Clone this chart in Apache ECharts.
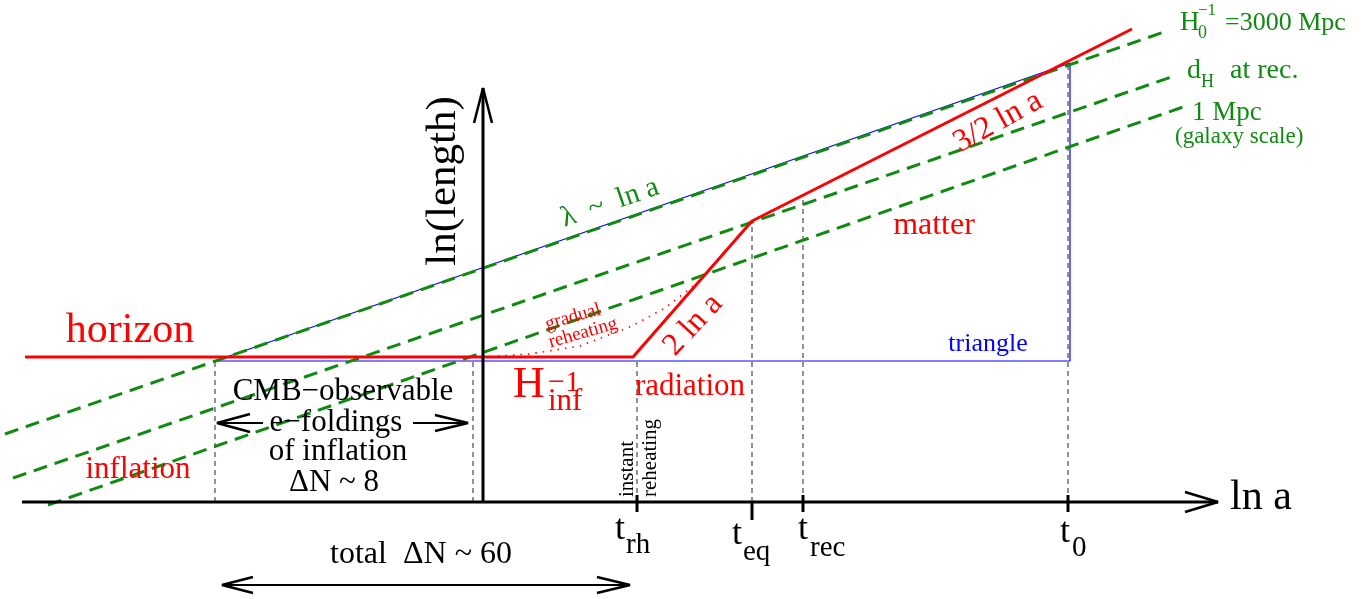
<!DOCTYPE html>
<html>
<head>
<meta charset="utf-8">
<script src="https://cdn.jsdelivr.net/npm/echarts@6/dist/echarts.min.js"></script>
<style>
  html, body { margin: 0; padding: 0; background: #fff; }
  #chart { width: 1370px; height: 599px; }
</style>
</head>
<body>
<div id="chart"></div>
<script>
// Units: ln a along x, ln(length) along y; origin where the two axes cross.
const horizon        = [[-458, 145], [150, 145], [269, 281], [649, 473]];
const gradualReheat  = [[0, 145], [47, 148], [97, 156], [149, 176], [182, 194], [217, 221]];
const triangle       = [[-268, 141], [587, 141], [587, 439], [-268, 141]];
const scaleH0        = [[-478, 68], [684, 471]];
const scaleRec       = [[-470, 24], [694, 427]];
const scaleGalaxy    = [[-435, -3], [700, 395]];
const cmbEdges       = [-268, -10];          // ln a at the start/end of the observable e-foldings
const cmbEdgeTop     = 141;
const epochNames     = ['rh', 'eq', 'rec', '0'];
const epochLnA       = [154, 269, 320, 585];
const epochTop       = [141, 281, 306, 440];
const lnAxisEnd      = [735, 414];            // ends of the ln a and ln(length) axes
const lnAxisStart    = -461;

const FONT = 'Liberation Serif';
const RED = '#ff0000', BLUE = '#0000ff', GREEN = '#108a10', BLACK = '#000000', GREY = '#4a4a4a';

const series = [];

function path(data, color, width, type, z) {
  series.push({
    type: 'line', data: data, showSymbol: false, symbol: 'none', silent: true,
    animation: false, z: z || 2,
    lineStyle: { color: color, width: width, type: type || 'solid', cap: 'butt', opacity: 1 }
  });
}

function note(x, y, text, size, color, align, rotate) {
  series.push({
    type: 'scatter', silent: true, symbolSize: 0, animation: false, z: 10,
    itemStyle: { opacity: 1 },
    data: [[x, y]],
    label: {
      show: true, position: [0, 0], formatter: text, opacity: 1,
      fontFamily: FONT, fontSize: size, color: color || BLACK,
      align: align || 'center', verticalAlign: 'middle', rotate: rotate || 0
    }
  });
}

// open "V" arrow head
function head(tx, ty, back, half, vertical) {
  const pts = vertical
    ? [[tx - half, ty + back], [tx, ty], [tx + half, ty + back]]
    : [[tx + back, ty - half], [tx, ty], [tx + back, ty + half]];
  path(pts, BLACK, 2.5, 'solid', 6);
}

// triangle of modes inside the horizon today
path(triangle, BLUE, 1.2, 'solid', 2);

// comoving scales, lambda ~ ln a
[scaleH0, scaleRec, scaleGalaxy].forEach(s => path(s, GREEN, 3, [14, 8], 3));

// vertical guide lines
cmbEdges.forEach(x => path([[x, 0], [x, cmbEdgeTop]], GREY, 1.2, [5, 4], 1));
epochLnA.forEach((x, i) => path([[x, 0], [x, epochTop[i]]], GREY, 1.2, [5, 4], 1));

// Hubble radius
path(horizon, RED, 3, 'solid', 4);
path(gradualReheat, RED, 1.6, [1.5, 6], 4);

// axes
path([[lnAxisStart, 0], [lnAxisEnd[0], 0]], BLACK, 3, 'solid', 5);
path([[0, 0], [0, lnAxisEnd[1]]], BLACK, 3, 'solid', 5);
head(lnAxisEnd[0], 0, -33, 10, false);
head(0, lnAxisEnd[1], -35, 9, true);

// epoch ticks
epochLnA.forEach((x, i) => {
  const low = epochNames[i] === 'eq' ? -18 : -10;
  const high = epochNames[i] === 'eq' ? 0 : 7;
  path([[x, low], [x, high]], BLACK, 3, 'solid', 5);
});

// e-foldings arrows
path([[-266, 79], [-220, 79]], BLACK, 2, 'solid', 6);
path([[-70, 79], [-15, 79]], BLACK, 2, 'solid', 6);
head(-266, 79, 33, 9, false);
head(-15, 79, -33, 8, false);
path([[-261, -83], [147, -83]], BLACK, 2, 'solid', 6);
head(-261, -83, 31, 8, false);
head(147, -83, -33, 8, false);

// axis titles
note(747, 4, 'ln a', 42, BLACK, 'left');
note(-39, 321, 'ln(length)', 43, BLACK, 'center', 90);

// epoch labels
const tPos = { rh: [132, -28, 143, -43], eq: [249, -33, 260, -50], rec: [315, -28, 327, -46], '0': [577, -31, 589, -46] };
epochNames.forEach(n => {
  const p = tPos[n];
  note(p[0], p[1], 't', 36, BLACK, 'left');
  note(p[2], p[3], n, 29, BLACK, 'left');
});

// red annotations
note(-353, 171, 'horizon', 42, RED);
note(-345, 32, 'inflation', 31, RED);
note(30, 117, 'H', 44, RED, 'left');
note(65, 119, '\u22121', 30, RED, 'left');
note(65, 100, 'inf', 31, RED, 'left');
note(207, 115, 'radiation', 31, RED);
note(451, 276, 'matter', 32, RED);
note(210, 177, '2 ln a', 32, RED, 'center', 47);
note(515, 380, '3/2 ln a', 32, RED, 'center', 29);
note(90, 185, 'gradual', 19, RED, 'center', 16);
note(100, 169, 'reheating', 19, RED, 'center', 16);

// blue / green annotations
note(505, 158, 'triangle', 26, BLUE);
note(127, 299, '\u03bb  ~  ln a', 29, GREEN, 'center', 19);
note(697, 479, 'H', 27, GREEN, 'left');
note(715, 469, '0', 18, GREEN, 'left');
note(715, 491, '\u22121', 17, GREEN, 'left');
note(742, 479, '=3000 Mpc', 26, GREEN, 'left');
note(704, 431, 'd', 28, GREEN, 'left');
note(718, 420, 'H', 18, GREEN, 'left');
note(747, 431, 'at rec.', 28, GREEN, 'left');
note(709, 389, '1 Mpc', 27, GREEN, 'left');
note(692, 365, '(galaxy scale)', 23, GREEN, 'left');

// black annotations
note(-140, 110, 'CMB\u2212observable', 31);
note(-147, 79, 'e\u2212foldings', 31);
note(-145, 50, 'of inflation', 31);
note(-149, 19, '\u0394N ~ 8', 31);
note(-62, -53, 'total  \u0394N ~ 60', 32);
note(144, 5, 'instant', 21, BLACK, 'left', 90);
note(167, 5, 'reheating', 21, BLACK, 'left', 90);

const chart = echarts.init(document.getElementById('chart'), null, { renderer: 'canvas' });
chart.setOption({
  backgroundColor: '#ffffff',
  animation: false,
  grid: { left: 0, right: 0, top: 0, bottom: 0 },
  xAxis: { type: 'value', min: -483, max: 887, show: false },
  yAxis: { type: 'value', min: -97, max: 502, show: false },
  series: series
});
</script>
</body>
</html>
